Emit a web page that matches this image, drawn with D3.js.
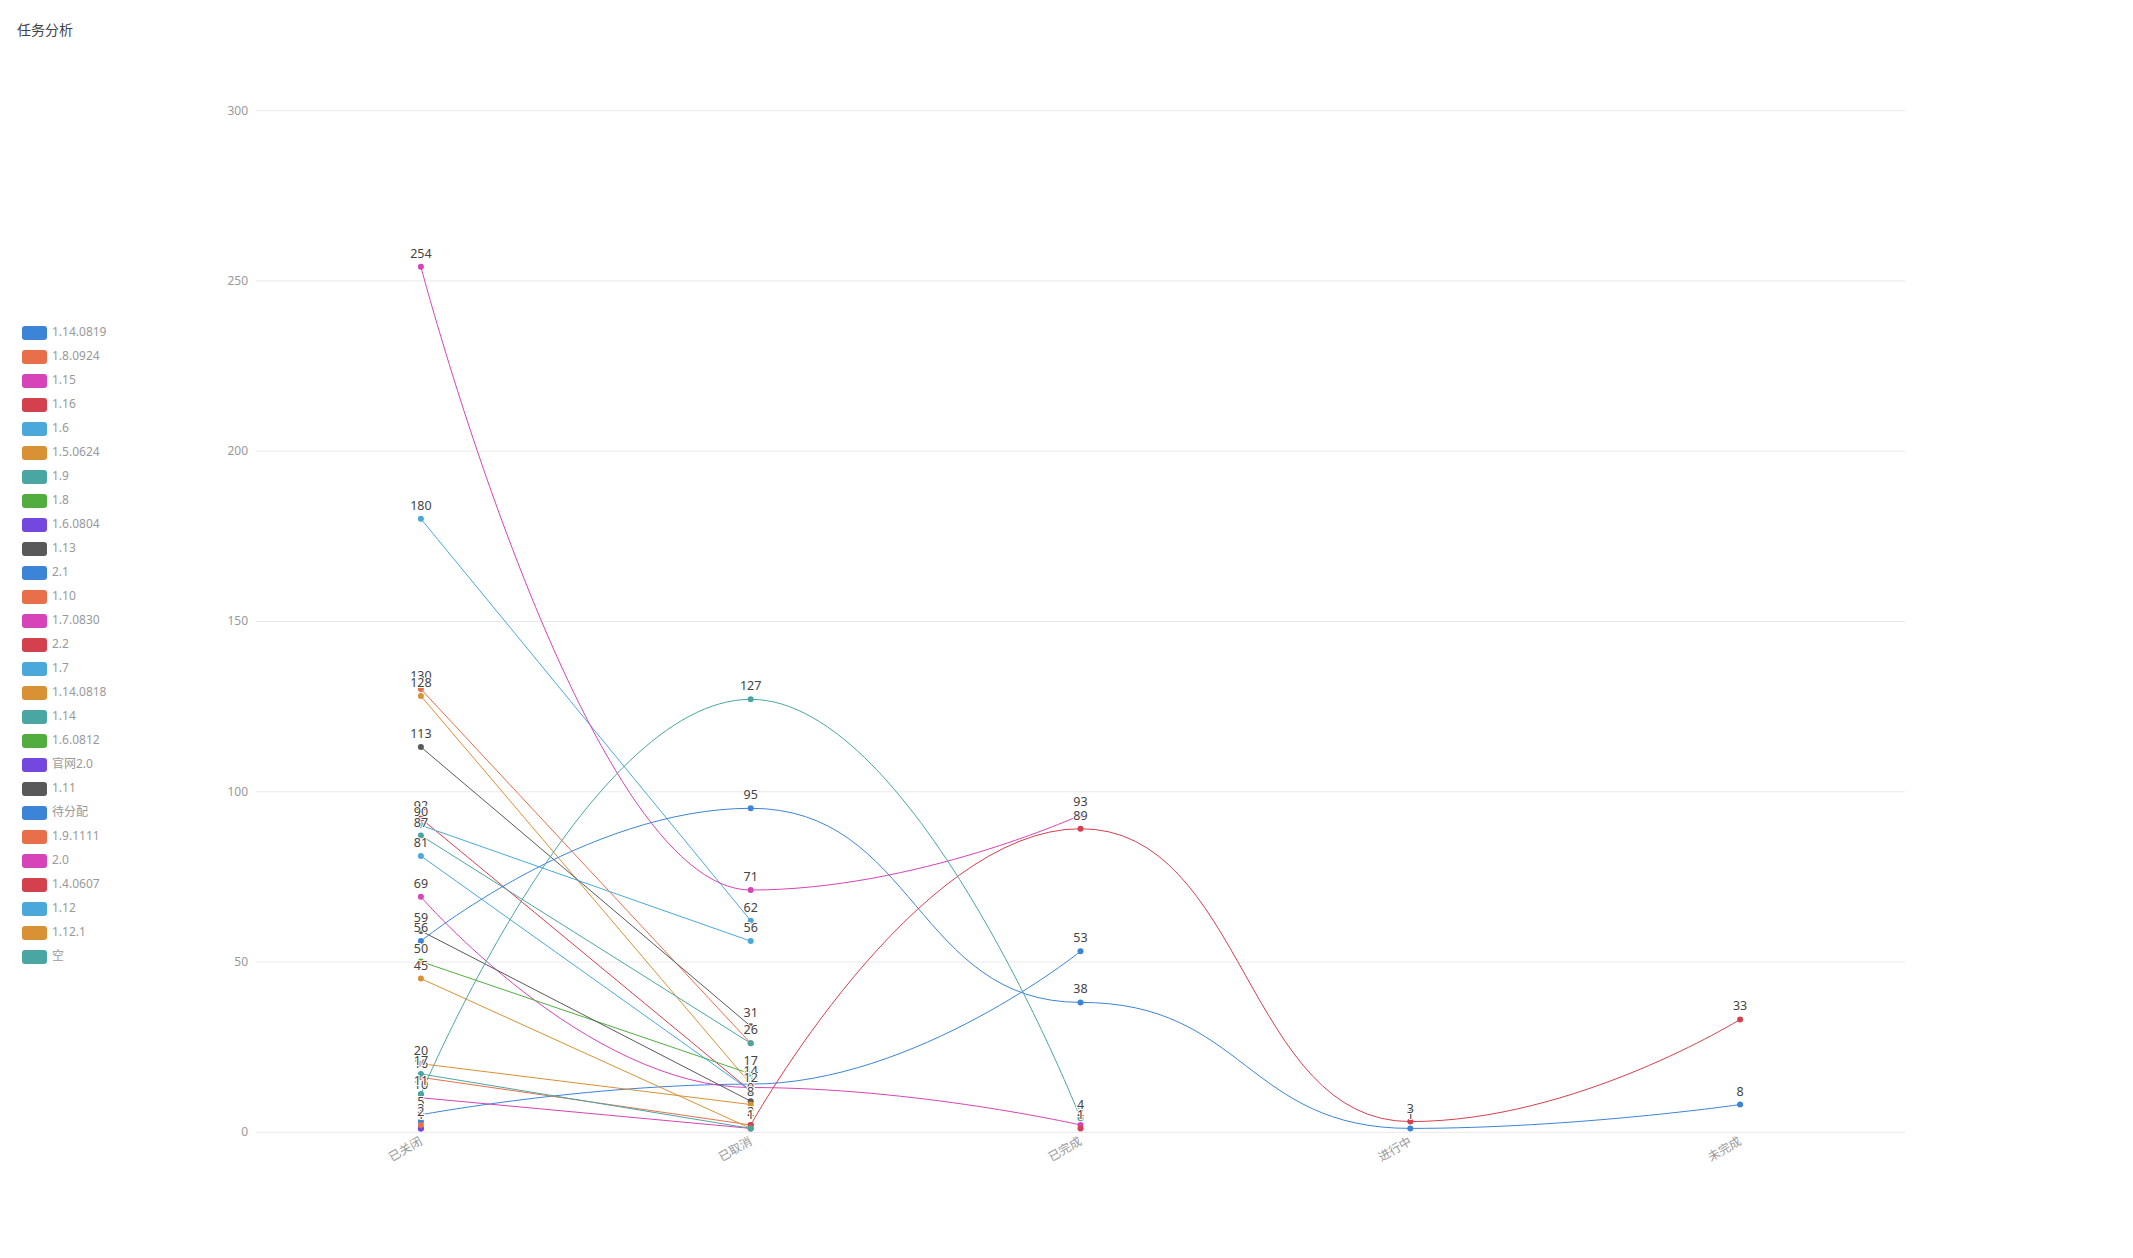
<!DOCTYPE html>
<html><head><meta charset="utf-8">
<script src="https://cdn.jsdelivr.net/npm/d3@7"></script>
<style>
html,body{margin:0;padding:0;background:#fff;}
svg{display:block;font-family:"Noto Sans","Noto Sans CJK SC",sans-serif;}
</style></head>
<body>
<svg id="chart" width="2133" height="1258"></svg>
<script>
const title = "任务分析";
const categories = ["已关闭", "已取消", "已完成", "进行中", "未完成"];
const yTicks = [0, 50, 100, 150, 200, 250, 300];
const palette = ["#3b84d8", "#e96e4a", "#d743b8", "#d5404f", "#4aa8db", "#d89133", "#4aa6a3", "#52ad3f", "#7447e1", "#595959"];
const seriesNames = ["1.14.0819","1.8.0924","1.15","1.16","1.6","1.5.0624","1.9","1.8","1.6.0804","1.13",
  "2.1","1.10","1.7.0830","2.2","1.7","1.14.0818","1.14","1.6.0812","官网2.0","1.11",
  "待分配","1.9.1111","2.0","1.4.0607","1.12","1.12.1","空"];
// values per category: 已关闭, 已取消, 已完成, 进行中, 未完成 (null = no data)
const seriesValues = [
  [5, 14, 53, null, null],
  [130, 26, null, null, null],
  [69, 13, 2, null, null],
  [92, 12, null, null, null],
  [180, 62, null, null, null],
  [128, 14, null, null, null],
  [87, 26, null, null, null],
  [50, 17, null, null, null],
  [1, null, null, null, null],
  [113, 31, null, null, null],
  [56, 95, 38, 1, 8],
  [16, 2, null, null, null],
  [10, 1, null, null, null],
  [null, 2, 89, 3, 33],
  [90, 56, null, null, null],
  [45, 1, null, null, null],
  [17, 1, null, null, null],
  [11, null, null, null, null],
  [1, null, null, null, null],
  [59, 9, null, null, null],
  [3, null, null, null, null],
  [2, null, null, null, null],
  [254, 71, 93, null, null],
  [null, null, 1, null, null],
  [81, 12, null, null, null],
  [20, 8, null, null, null],
  [11, 127, 4, null, null]
];

const svg = d3.select("#chart");
const x = d3.scalePoint().domain(categories).range([256, 1905]).padding(0.5);
const y = d3.scaleLinear().domain([0, 300]).range([1131.8, 110.2]);

// title
svg.append("text").attr("x", 17).attr("y", 35).attr("fill", "#444")
  .style("font-size", "14px").style("font-family", "'Noto Sans CJK SC',sans-serif").text(title);

// grid + y axis labels
const yAxis = d3.axisLeft(y).tickValues(yTicks).tickSize(-(1905 - 256)).tickPadding(8);
const gy = svg.append("g").attr("transform", "translate(256,0)").call(yAxis);
gy.select(".domain").remove();
gy.selectAll(".tick line").attr("stroke", "#e9e9e9");
gy.selectAll(".tick text").attr("fill", "#999").style("font-size", "12px").style("font-family", "'Noto Sans',sans-serif");

// x axis labels
const xAxis = d3.axisBottom(x).tickSize(0).tickPadding(0);
const gx = svg.append("g").attr("transform", "translate(0,1131.8)").call(xAxis);
gx.select(".domain").remove();
gx.selectAll(".tick text")
  .attr("fill", "#999").style("font-size", "12px").style("font-family", "'Noto Sans CJK SC',sans-serif")
  .attr("text-anchor", "end").attr("dy", null).attr("y", 0)
  .attr("dominant-baseline", "middle")
  .attr("transform", "translate(0,9) rotate(-30)");

// ECharts-like smooth (monotone x) curve
function curveSmoothX(context) { return new SmoothX(context); }
function SmoothX(context) { this._context = context; }
SmoothX.prototype = {
  areaStart() { this._line = 0; }, areaEnd() { this._line = NaN; },
  lineStart() { this._pts = []; },
  point(px, py) { this._pts.push([+px, +py]); },
  lineEnd() {
    const p = this._pts, n = p.length, c = this._context;
    if (!n) return;
    c.moveTo(p[0][0], p[0][1]);
    for (let i = 1; i < n; i++) {
      const [x0, y0] = p[i - 1], [x1, y1] = p[i];
      const dx = x1 - x0;
      if (n === 2) { c.lineTo(x1, y1); continue; }
      const c1x = i - 1 === 0 ? x0 : x0 + dx * 0.5, c1y = y0;
      const c2x = i === n - 1 ? x1 : x1 - dx * 0.5, c2y = y1;
      c.bezierCurveTo(c1x, c1y, c2x, c2y, x1, y1);
    }
  }
};

const series = seriesNames.map((name, i) => ({
  name, color: palette[i % palette.length],
  pts: categories.map((c, j) => ({ c, v: seriesValues[i][j] })).filter(d => d.v != null)
}));

const line = d3.line().x(d => x(d.c)).y(d => y(d.v)).curve(curveSmoothX);

const gLines = svg.append("g");
series.forEach(s => {
  if (s.pts.length > 1)
    gLines.append("path").attr("d", line(s.pts)).attr("fill", "none")
      .attr("stroke", s.color).attr("stroke-width", 1);
});
const gPts = svg.append("g");
series.forEach(s => {
  gPts.selectAll(null).data(s.pts).enter().append("circle")
    .attr("cx", d => x(d.c)).attr("cy", d => y(d.v)).attr("r", 3).attr("fill", s.color);
});
const gLab = svg.append("g");
series.forEach(s => {
  gLab.selectAll(null).data(s.pts).enter().append("text")
    .attr("x", d => x(d.c)).attr("y", d => y(d.v) - 9)
    .attr("text-anchor", "middle").attr("fill", "#444")
    .attr("stroke", "#fff").attr("stroke-width", 2).attr("paint-order", "stroke")
    .style("font-size", "12.5px").text(d => d.v);
});

// legend
const gLeg = svg.append("g");
series.forEach((s, i) => {
  const cy = 333 + i * 24;
  gLeg.append("rect").attr("x", 22).attr("y", cy - 7).attr("width", 25).attr("height", 14)
    .attr("rx", 3).attr("fill", s.color);
  gLeg.append("text").attr("x", 52).attr("y", cy).attr("dominant-baseline", "middle")
    .attr("fill", "#999").style("font-size", "12px")
    .style("font-family", "'Noto Sans','Noto Sans CJK SC',sans-serif").text(s.name);
});
</script>
</body></html>
